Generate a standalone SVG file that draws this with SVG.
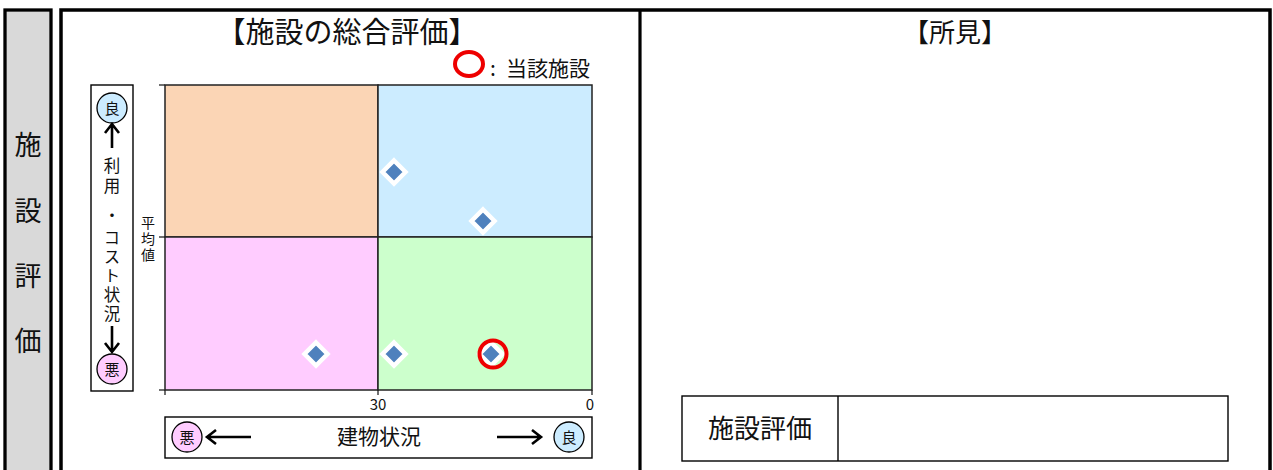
<svg xmlns="http://www.w3.org/2000/svg" width="1273" height="470" viewBox="0 0 1273 470">
<defs>
<style>
text{font-family:"Noto Sans CJK JP","Noto Sans",sans-serif;fill:#111;}
.vt{writing-mode:vertical-rl;text-anchor:middle;}
.frame{fill:none;stroke:#000;stroke-width:3.5;}
.thin{fill:none;stroke:#000;stroke-width:1.4;}
.q{stroke:#222;stroke-width:1.5;}
.good{fill:#CCECFF;stroke:#000;stroke-width:1.3;}
.bad{fill:#FFCCFF;stroke:#000;stroke-width:1.3;}
.arrow{fill:none;stroke:#000;stroke-width:2.6;}
.dia{fill:#4F81BD;stroke:#fff;stroke-width:4.5;stroke-linejoin:miter;}
.tick{stroke:#222;stroke-width:1.3;}
</style>
<path id="d" d="M0,-11.5 L11.5,0 L0,11.5 L-11.5,0 Z"/>
</defs>
<rect width="1273" height="470" fill="#fff"/>

<g id="side-label">
<rect x="5" y="10" width="46" height="470" fill="#D9D9D9" stroke="#000" stroke-width="3.3"/>
<text x="28" y="155" font-size="27" text-anchor="middle">施</text>
<text x="28" y="221" font-size="27" text-anchor="middle">設</text>
<text x="28" y="286" font-size="27" text-anchor="middle">評</text>
<text x="28" y="351" font-size="27" text-anchor="middle">価</text>
</g>

<g id="main-frame">
<path class="frame" d="M61,480 V10 H1270 V480"/>
<line x1="640" y1="10" x2="640" y2="480" stroke="#000" stroke-width="3.2"/>
</g>

<g id="chart-title">
<text x="347" y="43" font-size="29" text-anchor="middle">【施設の総合評価】</text>
</g>

<g id="legend">
<ellipse cx="469" cy="64" rx="14" ry="12" fill="none" stroke="#E00" stroke-width="4"/>
<text y="76" font-size="21"><tspan x="490">:</tspan><tspan x="506">当該施設</tspan></text>
</g>

<g id="plot">
<rect class="q" x="165" y="85" width="213" height="152" fill="#FBD5B5"/>
<rect class="q" x="378" y="85" width="214" height="152" fill="#CCECFF"/>
<rect class="q" x="165" y="237" width="213" height="153" fill="#FFCCFF"/>
<rect class="q" x="378" y="237" width="214" height="153" fill="#CCFFCC"/>
<line class="tick" x1="159" y1="85" x2="165" y2="85"/>
<line class="tick" x1="159" y1="237" x2="165" y2="237"/>
<line class="tick" x1="159" y1="390" x2="165" y2="390"/>
<line class="tick" x1="165" y1="390" x2="165" y2="395"/>
<line class="tick" x1="378" y1="390" x2="378" y2="395"/>
<line class="tick" x1="592" y1="390" x2="592" y2="395"/>
<text x="378" y="410" font-size="15" text-anchor="middle">30</text>
<text x="590" y="410" font-size="15" text-anchor="middle">0</text>
<text class="vt" x="148" y="240" font-size="14" letter-spacing="2">平均値</text>
</g>

<g id="points">
<use href="#d" class="dia" x="394" y="172"/>
<use href="#d" class="dia" x="483" y="221"/>
<use href="#d" class="dia" x="316" y="354"/>
<use href="#d" class="dia" x="394" y="354"/>
<use href="#d" class="dia" x="491" y="354"/>
<circle cx="493" cy="354" r="13.5" fill="none" stroke="#E00" stroke-width="4"/>
</g>

<g id="y-axis-label">
<rect class="thin" x="91" y="85" width="42" height="306" fill="#fff"/>
<circle class="good" cx="112" cy="108" r="15"/>
<text x="112" y="114" font-size="15" text-anchor="middle">良</text>
<text class="vt" x="112" y="177" font-size="16.5" letter-spacing="3.5">利用</text>
<text class="vt" x="112" y="216" font-size="16.5">・</text>
<text class="vt" x="112" y="277" font-size="16.5" letter-spacing="2.5">コスト状況</text>
<circle class="bad" cx="112" cy="369" r="15"/>
<text x="112" y="375" font-size="15" text-anchor="middle">悪</text>
</g>

<g id="x-axis-label">
<rect class="thin" x="165" y="417" width="427" height="41" fill="#fff"/>
<circle class="bad" cx="187" cy="437" r="15"/>
<text x="187" y="443" font-size="15" text-anchor="middle">悪</text>
<text x="379" y="444" font-size="21" text-anchor="middle">建物状況</text>
<circle class="good" cx="569" cy="437" r="15"/>
<text x="569" y="443" font-size="15" text-anchor="middle">良</text>
</g>

<g id="connectors">
<path class="arrow" d="M112,148 V125 M105,133 L112,124 L119,133"/>
<path class="arrow" d="M112,326 V351 M105,343 L112,352 L119,343"/>
<path class="arrow" d="M251,437 H208 M216,430 L207,437 L216,444"/>
<path class="arrow" d="M497,437 H540 M532,430 L541,437 L532,444"/>
</g>

<g id="findings-title">
<text x="955" y="42" font-size="26" text-anchor="middle">【所見】</text>
</g>

<g id="evaluation-box">
<rect class="thin" x="682" y="396" width="546" height="65" fill="#fff"/>
<line x1="838" y1="396" x2="838" y2="461" stroke="#000" stroke-width="1.4"/>
<text x="760" y="438" font-size="26" text-anchor="middle">施設評価</text>
</g>
</svg>
